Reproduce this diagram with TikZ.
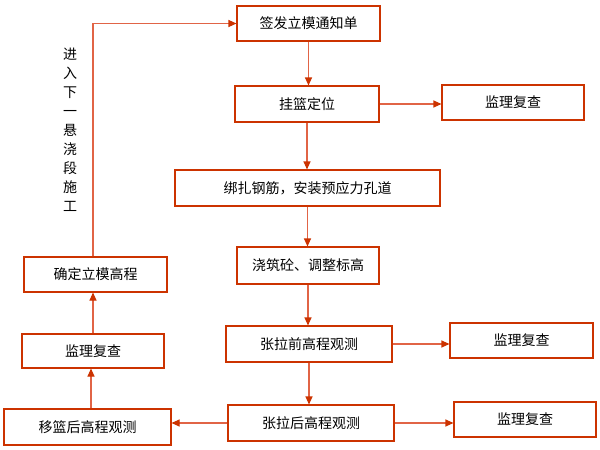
\documentclass[tikz,border=0pt]{standalone}
\usepackage{fontspec}
\setmainfont{Noto Sans CJK SC}
\usetikzlibrary{arrows.meta}
\definecolor{boxc}{RGB}{204,51,0}
\definecolor{linec}{RGB}{225,100,70}
\begin{document}
\begin{tikzpicture}[x=1pt,y=-1pt,
  box/.style={draw=boxc, line width=1.1pt, rectangle, inner sep=0pt, align=center,
    font=\fontsize{14}{16}\selectfont},
  conn/.style={draw=linec, line width=1.1pt, -{Triangle[length=8pt,width=7pt,color=boxc]}}]
\useasboundingbox (0,0) rectangle (600,450);
\node[box, minimum width=143pt, minimum height=35pt] (n1) at (308.5,23.5) {签发立模通知单};
\node[box, minimum width=144pt, minimum height=36pt] (n2) at (307,104) {挂篮定位};
\node[box, minimum width=142pt, minimum height=35pt] (r1) at (513,102.5) {监理复查};
\node[box, minimum width=265pt, minimum height=36pt] (n3) at (307.5,188) {绑扎钢筋，安装预应力孔道};
\node[box, minimum width=142pt, minimum height=37pt] (n4) at (308,265.5) {浇筑砼、调整标高};
\node[box, minimum width=166pt, minimum height=36pt] (n5) at (309,344) {张拉前高程观测};
\node[box, minimum width=143pt, minimum height=35pt] (r2) at (521.5,340.5) {监理复查};
\node[box, minimum width=166pt, minimum height=36pt] (n6) at (311,423) {张拉后高程观测};
\node[box, minimum width=142pt, minimum height=35pt] (r3) at (525,419.5) {监理复查};
\node[box, minimum width=167pt, minimum height=36pt] (l1) at (87.5,427) {移篮后高程观测};
\node[box, minimum width=142pt, minimum height=34pt] (l2) at (93,351) {监理复查};
\node[box, minimum width=143pt, minimum height=35pt] (l3) at (95.5,274.5) {确定立模高程};
\node[inner sep=0pt, align=center, font=\fontsize{14}{19}\selectfont] (vt) at (70,130)
  {进\\入\\下\\一\\悬\\浇\\段\\施\\工};
\coordinate (tl) at (93,23.5);
\draw[conn] (n1.south) -- (n1.south |- n2.north);
\draw[conn] (n2.east) -- (r1.west |- n2.east);
\draw[conn] (n2.south) -- (n2.south |- n3.north);
\draw[conn] (n3.south) -- (n3.south |- n4.north);
\draw[conn] (n4.south) -- (n4.south |- n5.north);
\draw[conn] (n5.east) -- (r2.west |- n5.east);
\draw[conn] (n5.south) -- (n5.south |- n6.north);
\draw[conn] (n6.east) -- (r3.west |- n6.east);
\draw[conn] (n6.west) -- (l1.east |- n6.west);
\draw[conn] (l1.north -| 91,0) -- (91,0 |- l2.south);
\draw[conn] (l2.north -| 93,0) -- (93,0 |- l3.south);
\draw[conn] (l3.north -| tl) -- (tl) -- (n1.west);
\end{tikzpicture}
\end{document}
